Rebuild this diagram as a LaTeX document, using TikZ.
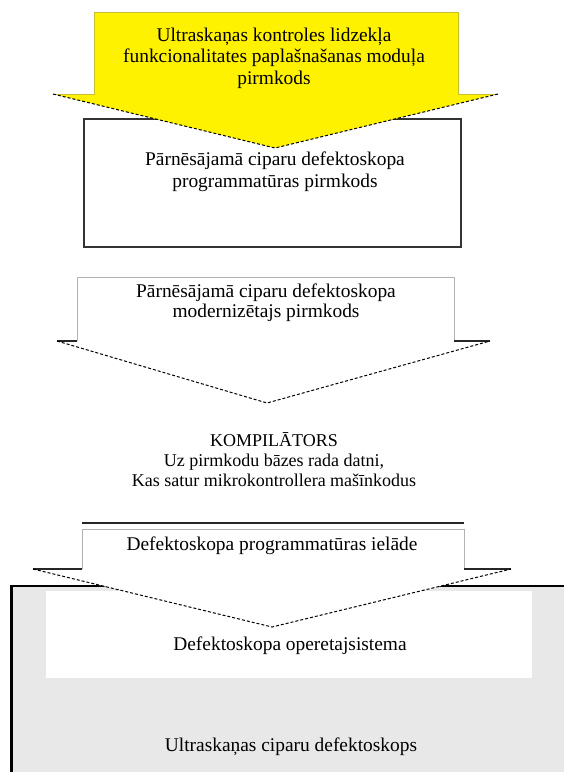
\documentclass[tikz,border=0pt]{standalone}
\usepackage{fontspec}
\setmainfont{Liberation Serif}
\usetikzlibrary{positioning}
\definecolor{osgray}{RGB}{232,232,232}
\tikzstyle{lbl}=[align=center,inner sep=0pt,font=\fontsize{19.4}{22}\selectfont]
\tikzstyle{src}=[draw=black!80,line width=1.5pt,fill=white]
\tikzstyle{shaft}=[draw=black!30,line width=1pt]
\tikzstyle{wing}=[draw=black!85,line width=1.3pt]
\tikzstyle{slope}=[draw=black,line width=1pt,dash pattern=on 3pt off 2pt]

\begin{document}
\begin{tikzpicture}[x=1pt,y=-1pt]
    \useasboundingbox (0,0) rectangle (564,772);
    \clip (0,0) rectangle (564,772);
    % device
    \draw[fill=osgray,line width=2pt] (11,586) rectangle (600,800);
    \draw[line width=3pt] (11,586) -- (11,800);
    \fill[white] (46,591) rectangle (532,678);
    % source code box
    \draw[src] (84,119) rectangle (461,247);
    % yellow arrow
    \fill[yellow] (94,12) -- (458,12) -- (458,94) -- (498,94) -- (275,148)
      -- (53,94) -- (94,94) -- cycle;
    \draw[yellow!75!black,line width=0.6pt] (53,94) -- (94,94) -- (94,12)
      -- (458,12) -- (458,94) -- (498,94);
    \draw[slope] (53,94) -- (275,148) -- (498,94);
    % modernised code arrow
    \fill[white] (77,277) -- (454,277) -- (454,341) -- (490,341) -- (267,403)
      -- (57,341) -- (77,341) -- cycle;
    \draw[shaft] (77,341) -- (77,277) -- (454,277) -- (454,341);
    \draw[wing] (57,341) -- (77,341) (454,341) -- (490,341);
    \draw[slope] (57,341) -- (267,403) -- (490,341);
    % upload arrow
    \draw[wing] (82,523) -- (464,523);
    \fill[white] (82,529) -- (464,529) -- (464,569) -- (511,569) -- (272,627)
      -- (33,569) -- (82,569) -- cycle;
    \draw[shaft] (82,569) -- (82,529) -- (464,529) -- (464,569);
    \draw[wing] (33,569) -- (82,569) (464,569) -- (511,569);
    \draw[slope] (33,569) -- (272,627) -- (511,569);
    % texts
    \node[lbl,font=\fontsize{19.4}{21.5}\selectfont] (module) at (274,58) {Ultraskaņas kontroles lidzekļa\\funkcionalitates paplašnašanas moduļa\\pirmkods};
    \node[lbl] (code) at (275,172) {Pārnēsājamā ciparu defektoskopa\\programmatūras pirmkods};
    \node[lbl,font=\fontsize{19.4}{20}\selectfont] (modern) at (266,303) {Pārnēsājamā ciparu defektoskopa\\modernizētajs pirmkods};
    \node[lbl,font=\fontsize{18}{20}\selectfont] (compiler) at (274,460) {KOMPILĀTORS\\Uz pirmkodu bāzes rada datni,\\Kas satur mikrokontrollera mašīnkodus};
    \node[lbl] (upload) at (272,546) {Defektoskopa programmatūras ielāde};
    \node[lbl] (os) at (290,646) {Defektoskopa operetajsistema};
    \node[lbl] (device) at (291,747) {Ultraskaņas ciparu defektoskops};
\end{tikzpicture}
\end{document}
